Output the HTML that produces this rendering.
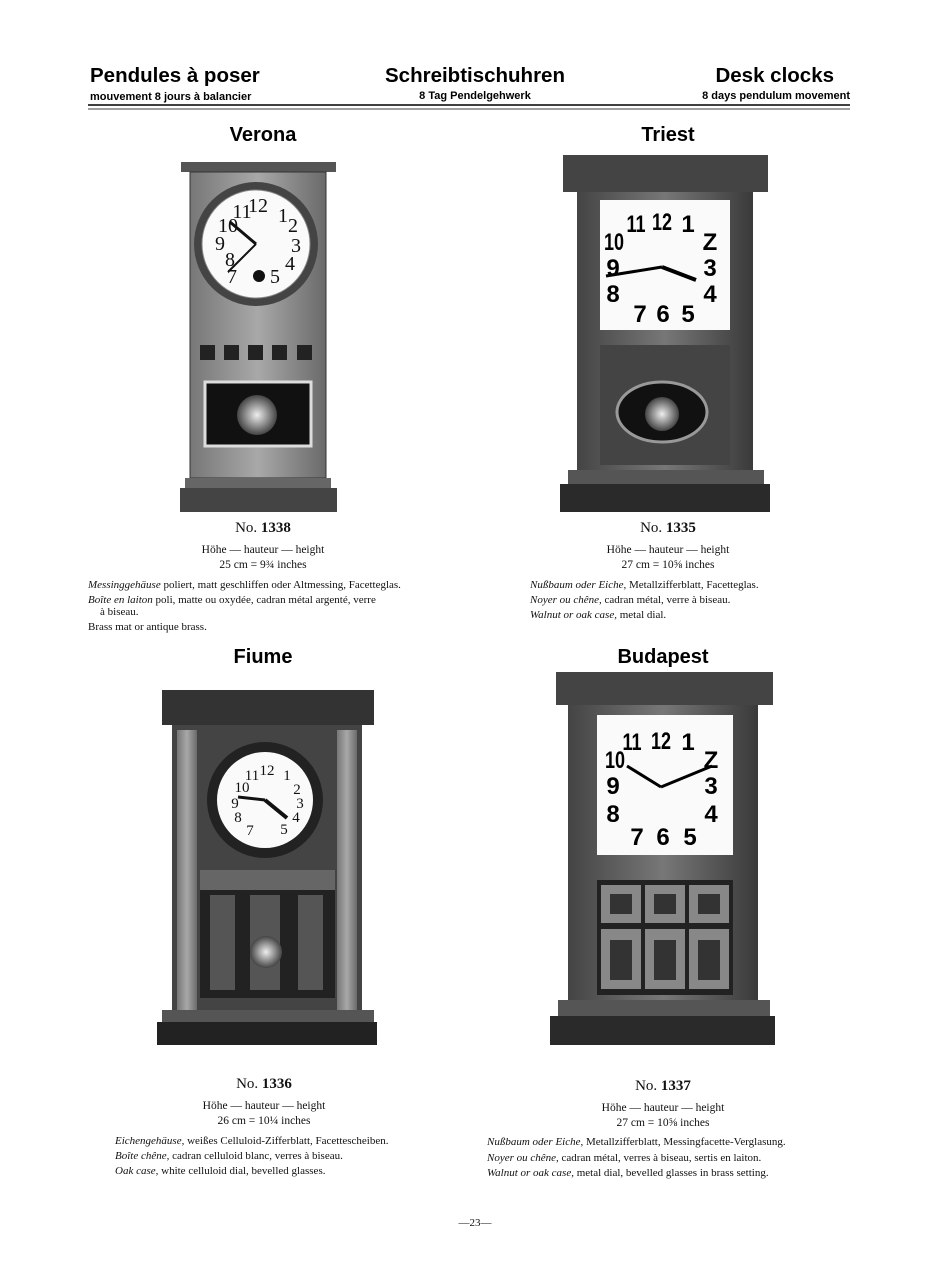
<!DOCTYPE html>
<html><head><meta charset="utf-8"><style>
html,body{margin:0;padding:0;background:#fff}
svg{display:block}
.h{font-family:"Liberation Sans",sans-serif;font-weight:bold}
.s{font-family:"Liberation Serif",serif}
</style></head><body>
<svg width="951" height="1280" viewBox="0 0 951 1280" xmlns="http://www.w3.org/2000/svg">
<defs>
<linearGradient id="wood" x1="0" x2="1"><stop offset="0" stop-color="#444"/><stop offset=".5" stop-color="#777"/><stop offset="1" stop-color="#3a3a3a"/></linearGradient>
<linearGradient id="brass" x1="0" x2="1"><stop offset="0" stop-color="#777"/><stop offset=".5" stop-color="#a8a8a8"/><stop offset="1" stop-color="#6a6a6a"/></linearGradient>
<radialGradient id="bob"><stop offset="0" stop-color="#eee"/><stop offset="1" stop-color="#444"/></radialGradient>
</defs>
<text x="90" y="82" class="h" font-size="20.5">Pendules à poser</text>
<text x="90" y="100" class="h" font-size="11">mouvement 8 jours à balancier</text>
<text x="475" y="82" class="h" font-size="20.5" text-anchor="middle">Schreibtischuhren</text>
<text x="475" y="99" class="h" font-size="11" text-anchor="middle">8 Tag Pendelgehwerk</text>
<text x="834" y="82" class="h" font-size="20.5" text-anchor="end">Desk clocks</text>
<text x="850" y="99" class="h" font-size="11" text-anchor="end">8 days pendulum movement</text>
<line x1="88" y1="105" x2="850" y2="105" stroke="#000" stroke-width="1.5"/>
<line x1="88" y1="109" x2="850" y2="109" stroke="#000" stroke-width="0.8"/>
<text x="263" y="141" class="h" font-size="20" text-anchor="middle">Verona</text>
<text x="668" y="141" class="h" font-size="20" text-anchor="middle">Triest</text>
<text x="263" y="663" class="h" font-size="20" text-anchor="middle">Fiume</text>
<text x="663" y="663" class="h" font-size="20" text-anchor="middle">Budapest</text>

<!-- Verona -->
<rect x="181" y="162" width="155" height="10" fill="#555"/>
<rect x="190" y="172" width="136" height="306" fill="url(#brass)" stroke="#333"/>
<circle cx="256" cy="244" r="62" fill="#444"/>
<circle cx="256" cy="244" r="54" fill="#fafafa" stroke="#888"/>
<g class="s" font-size="20" text-anchor="middle" fill="#111">
<text x="258" y="212">12</text><text x="283" y="222">1</text><text x="293" y="232">2</text><text x="296" y="252">3</text><text x="290" y="270">4</text><text x="275" y="283">5</text><text x="232" y="283">7</text><text x="230" y="266">8</text><text x="220" y="250">9</text><text x="228" y="232">10</text><text x="242" y="218">11</text></g>
<line x1="256" y1="244" x2="230" y2="222" stroke="#111" stroke-width="3"/>
<line x1="256" y1="244" x2="228" y2="272" stroke="#111" stroke-width="2"/>
<circle cx="259" cy="276" r="6" fill="#111"/>
<g fill="#222"><rect x="200" y="345" width="15" height="15"/><rect x="224" y="345" width="15" height="15"/><rect x="248" y="345" width="15" height="15"/><rect x="272" y="345" width="15" height="15"/><rect x="297" y="345" width="15" height="15"/></g>
<rect x="205" y="382" width="106" height="64" fill="#111" stroke="#ddd" stroke-width="3"/>
<circle cx="257" cy="415" r="20" fill="url(#bob)"/>
<rect x="185" y="478" width="146" height="10" fill="#666"/>
<rect x="180" y="488" width="157" height="24" fill="#444"/>
<!-- Triest -->
<rect x="563" y="155" width="205" height="37" fill="#444"/>
<rect x="577" y="192" width="176" height="278" fill="url(#wood)"/>
<rect x="600" y="200" width="130" height="130" fill="#fafafa"/>
<g class="h" font-size="24" text-anchor="middle" fill="#000" transform="translate(0,0)">
<text x="636" y="232" transform="translate(636,232) scale(0.75,1) translate(-636,-232)">11</text><text x="662" y="230" transform="translate(662,230) scale(0.75,1) translate(-662,-230)">12</text><text x="688" y="232">1</text><text x="710" y="250">Z</text><text x="614" y="250" transform="translate(614,250) scale(0.75,1) translate(-614,-250)">10</text><text x="613" y="276">9</text><text x="710" y="276">3</text><text x="613" y="302">8</text><text x="710" y="302">4</text><text x="640" y="322">7</text><text x="663" y="322">6</text><text x="688" y="322">5</text></g>
<line x1="662" y1="267" x2="606" y2="276" stroke="#000" stroke-width="3"/>
<line x1="662" y1="267" x2="696" y2="280" stroke="#000" stroke-width="4"/>
<rect x="600" y="345" width="130" height="120" fill="#444"/>
<ellipse cx="662" cy="412" rx="45" ry="30" fill="#111" stroke="#999" stroke-width="3"/>
<circle cx="662" cy="414" r="17" fill="url(#bob)"/>
<rect x="568" y="470" width="196" height="14" fill="#555"/>
<rect x="560" y="484" width="210" height="28" fill="#2a2a2a"/>
<!-- Fiume -->
<rect x="162" y="690" width="212" height="35" fill="#333"/>
<rect x="172" y="725" width="190" height="285" fill="#444"/>
<rect x="177" y="730" width="20" height="280" fill="url(#brass)"/>
<rect x="337" y="730" width="20" height="280" fill="url(#brass)"/>
<circle cx="265" cy="800" r="58" fill="#222"/>
<circle cx="265" cy="800" r="48" fill="#fafafa"/>
<g class="s" font-size="15" text-anchor="middle" fill="#111">
<text x="267" y="775">12</text><text x="287" y="780">1</text><text x="297" y="794">2</text><text x="300" y="808">3</text><text x="296" y="822">4</text><text x="284" y="834">5</text><text x="250" y="835">7</text><text x="238" y="822">8</text><text x="235" y="808">9</text><text x="242" y="792">10</text><text x="252" y="780">11</text></g>
<line x1="265" y1="800" x2="238" y2="797" stroke="#111" stroke-width="3"/>
<line x1="265" y1="800" x2="287" y2="818" stroke="#111" stroke-width="4"/>
<rect x="200" y="870" width="135" height="20" fill="#666"/>
<rect x="200" y="890" width="135" height="108" fill="#222"/>
<rect x="210" y="895" width="25" height="95" fill="#555"/><rect x="250" y="895" width="30" height="95" fill="#555"/><rect x="298" y="895" width="25" height="95" fill="#555"/>
<circle cx="266" cy="952" r="16" fill="url(#bob)"/>
<rect x="162" y="1010" width="212" height="12" fill="#555"/>
<rect x="157" y="1022" width="220" height="23" fill="#222"/>
<!-- Budapest -->
<rect x="556" y="672" width="217" height="33" fill="#444"/>
<rect x="568" y="705" width="190" height="295" fill="url(#wood)"/>
<rect x="597" y="715" width="136" height="140" fill="#fafafa"/>
<g class="h" font-size="24" text-anchor="middle" fill="#000">
<text x="632" y="750" transform="translate(632,750) scale(0.75,1) translate(-632,-750)">11</text><text x="661" y="749" transform="translate(661,749) scale(0.75,1) translate(-661,-749)">12</text><text x="688" y="750">1</text><text x="711" y="768">Z</text><text x="615" y="768" transform="translate(615,768) scale(0.75,1) translate(-615,-768)">10</text><text x="613" y="794">9</text><text x="711" y="794">3</text><text x="613" y="822">8</text><text x="711" y="822">4</text><text x="637" y="845">7</text><text x="663" y="845">6</text><text x="690" y="845">5</text></g>
<line x1="661" y1="787" x2="627" y2="766" stroke="#000" stroke-width="3"/>
<line x1="661" y1="787" x2="712" y2="766" stroke="#000" stroke-width="3"/>
<rect x="597" y="880" width="136" height="115" fill="#222"/>
<g fill="#888" stroke="#222" stroke-width="2">
<rect x="600" y="884" width="42" height="40"/><rect x="644" y="884" width="42" height="40"/><rect x="688" y="884" width="42" height="40"/>
<rect x="600" y="928" width="42" height="62"/><rect x="644" y="928" width="42" height="62"/><rect x="688" y="928" width="42" height="62"/></g>
<g fill="#333"><rect x="610" y="894" width="22" height="20"/><rect x="654" y="894" width="22" height="20"/><rect x="698" y="894" width="22" height="20"/><rect x="610" y="940" width="22" height="40"/><rect x="654" y="940" width="22" height="40"/><rect x="698" y="940" width="22" height="40"/></g>
<rect x="558" y="1000" width="212" height="16" fill="#555"/>
<rect x="550" y="1016" width="225" height="29" fill="#2a2a2a"/>

<g class="s" fill="#111">
<text x="263" y="532" font-size="15" text-anchor="middle">No. <tspan font-weight="bold">1338</tspan></text>
<text x="263" y="553" font-size="11.5" text-anchor="middle">Höhe — hauteur — height</text>
<text x="263" y="568" font-size="11.5" text-anchor="middle">25 cm = 9¾ inches</text>
<text x="88" y="588" font-size="11"><tspan font-style="italic">Messinggehäuse</tspan> poliert, matt geschliffen oder Altmessing, Facetteglas.</text>
<text x="88" y="603" font-size="11"><tspan font-style="italic">Boîte en laiton</tspan> poli, matte ou oxydée, cadran métal argenté, verre</text>
<text x="100" y="615" font-size="11">à biseau.</text>
<text x="88" y="630" font-size="11">Brass mat or antique brass.</text>

<text x="668" y="532" font-size="15" text-anchor="middle">No. <tspan font-weight="bold">1335</tspan></text>
<text x="668" y="553" font-size="11.5" text-anchor="middle">Höhe — hauteur — height</text>
<text x="668" y="568" font-size="11.5" text-anchor="middle">27 cm = 10⅝ inches</text>
<text x="530" y="588" font-size="11"><tspan font-style="italic">Nußbaum oder Eiche,</tspan> Metallzifferblatt, Facetteglas.</text>
<text x="530" y="603" font-size="11"><tspan font-style="italic">Noyer ou chêne,</tspan> cadran métal, verre à biseau.</text>
<text x="530" y="618" font-size="11"><tspan font-style="italic">Walnut or oak case,</tspan> metal dial.</text>

<text x="264" y="1088" font-size="15" text-anchor="middle">No. <tspan font-weight="bold">1336</tspan></text>
<text x="264" y="1109" font-size="11.5" text-anchor="middle">Höhe — hauteur — height</text>
<text x="264" y="1124" font-size="11.5" text-anchor="middle">26 cm = 10¼ inches</text>
<text x="115" y="1144" font-size="11"><tspan font-style="italic">Eichengehäuse,</tspan> weißes Celluloid-Zifferblatt, Facettescheiben.</text>
<text x="115" y="1159" font-size="11"><tspan font-style="italic">Boîte chêne,</tspan> cadran celluloid blanc, verres à biseau.</text>
<text x="115" y="1174" font-size="11"><tspan font-style="italic">Oak case,</tspan> white celluloid dial, bevelled glasses.</text>

<text x="663" y="1090" font-size="15" text-anchor="middle">No. <tspan font-weight="bold">1337</tspan></text>
<text x="663" y="1111" font-size="11.5" text-anchor="middle">Höhe — hauteur — height</text>
<text x="663" y="1126" font-size="11.5" text-anchor="middle">27 cm = 10⅝ inches</text>
<text x="487" y="1145" font-size="11"><tspan font-style="italic">Nußbaum oder Eiche,</tspan> Metallzifferblatt, Messingfacette-Verglasung.</text>
<text x="487" y="1161" font-size="11"><tspan font-style="italic">Noyer ou chêne,</tspan> cadran métal, verres à biseau, sertis en laiton.</text>
<text x="487" y="1176" font-size="11"><tspan font-style="italic">Walnut or oak case,</tspan> metal dial, bevelled glasses in brass setting.</text>

<text x="475" y="1226" font-size="11" text-anchor="middle">—23—</text>
</g>
</svg>
</body></html>
